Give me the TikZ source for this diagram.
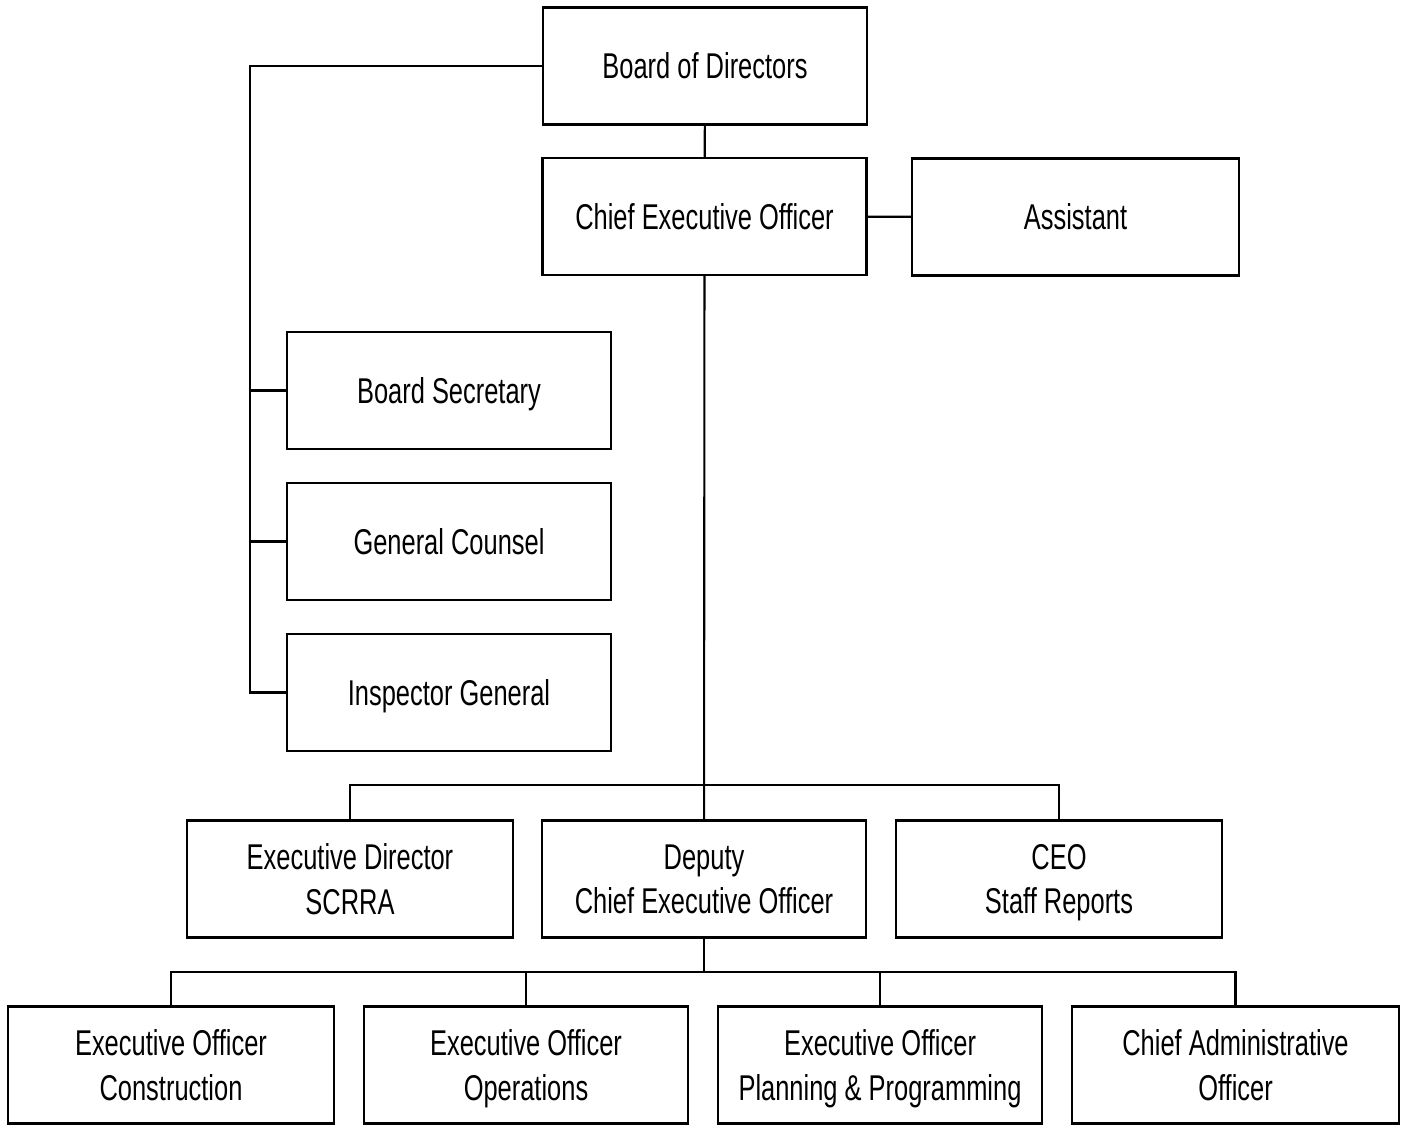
\documentclass[tikz,border=0pt]{standalone}
\usepackage{fontspec}
\setmainfont{Liberation Sans}[FakeStretch=0.71]
\usetikzlibrary{positioning}

\begin{document}
\begin{tikzpicture}[line width=0.6pt,
        unit/.style={draw,rectangle,minimum width=3.24cm,minimum height=1.17cm,
                     align=center,inner sep=0pt,text depth=0pt,
                     font=\fontsize{10.2}{12.6}\selectfont}]
        \useasboundingbox (0,0) rectangle (14.04,11.25);

        % top of the chart
        \node[unit] (board) at (7.05, 10.59) {Board of Directors};
        \node[unit] (ceo)   at (7.045, 9.085) {Chief Executive Officer};
        \node[unit,minimum width=3.27cm] (asst) at (10.755, 9.08) {Assistant};

        % reporting to the board
        \node[unit] (bsec)  at (4.49, 7.345) {Board Secretary};
        \node[unit] (gcoun) at (4.49, 5.835) {General Counsel};
        \node[unit] (igen)  at (4.49, 4.325) {Inspector General};

        % reporting to the CEO
        \node[unit,minimum width=3.26cm] (edir)  at (3.50, 2.46)  {Executive Director\\SCRRA};
        \node[unit]                      (dceo)  at (7.04, 2.46)  {Deputy\\Chief Executive Officer};
        \node[unit,minimum width=3.26cm] (staff) at (10.59, 2.46) {CEO\\Staff Reports};

        % reporting to the deputy
        \node[unit,minimum width=3.26cm] (eocon) at (1.71, 0.60)   {Executive Officer\\Construction};
        \node[unit]                      (eoops) at (5.26, 0.60)   {Executive Officer\\Operations};
        \node[unit]                      (eopln) at (8.80, 0.60)   {Executive Officer\\Planning \& Programming};
        \node[unit,minimum width=3.27cm] (cao)   at (12.355, 0.60) {Chief Administrative\\Officer};

        \coordinate (lbus) at (2.50, 0);
        \coordinate (cbus) at (0, 3.40);
        \coordinate (dbus) at (0, 1.53);

        \draw (board) -- (ceo);
        \draw (ceo) -- (asst);
        \draw (board.west) -| (lbus |- igen.west) -- (igen.west);
        \draw (lbus |- bsec.west) -- (bsec.west);
        \draw (lbus |- gcoun.west) -- (gcoun.west);

        \draw (ceo) -- (dceo);
        \draw (edir.north) |- (cbus -| ceo.south) -| (staff.north);

        \draw (dceo.south) -- (dceo.south |- dbus);
        \draw (eocon.north) |- (dbus -| dceo.south) -| (cao.north);
        \draw (eoops.north) -- (eoops.north |- dbus);
        \draw (eopln.north) -- (eopln.north |- dbus);
\end{tikzpicture}
\end{document}
